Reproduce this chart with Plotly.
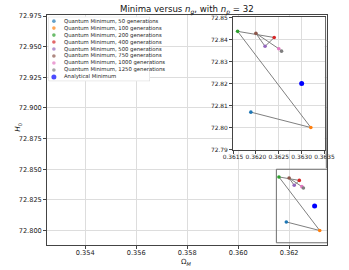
import plotly.graph_objects as go

# ---- data ----
generations = [50, 100, 200, 400, 500, 750, 1000, 1250]
omega_m = [0.36189, 0.36320, 0.36160, 0.36240, 0.36220, 0.36200, 0.36250, 0.36256]
h0 = [72.8070, 72.8000, 72.8437, 72.8409, 72.8369, 72.8428, 72.8358, 72.8347]
analytical_omega = [0.36300]
analytical_h0 = [72.8200]
series_labels = [f"Quantum Minimum, {g} generations" for g in generations]
analytical_label = "Analytical Minimum"

colors = ["#1f77b4", "#ff7f0e", "#2ca02c", "#d62728", "#9467bd", "#8c564b", "#e377c2", "#7f7f7f"]
analytical_color = "#0000ff"

main_xrange = [0.352507, 0.363486]
main_yrange = [72.78835, 72.9755]
inset_xrange = [0.3615, 0.3635]
inset_yrange = [72.79, 72.85]
eps_x = 1e-7
eps_y = 5e-5

FONT = "DejaVu Sans"
fig = go.Figure()

for xa, ya in (("x", "y"), ("x2", "y2")):
    fig.add_trace(go.Scatter(x=omega_m, y=h0, mode="lines", xaxis=xa, yaxis=ya,
                             line=dict(color="#808080", width=1), showlegend=False,
                             hoverinfo="skip"))
    for i in range(len(generations)):
        fig.add_trace(go.Scatter(x=[omega_m[i]], y=[h0[i]], mode="markers", xaxis=xa, yaxis=ya,
                                 marker=dict(color=colors[i], size=3.6, line=dict(width=0)),
                                 name=series_labels[i], showlegend=False))
    fig.add_trace(go.Scatter(x=analytical_omega, y=analytical_h0, mode="markers", xaxis=xa, yaxis=ya,
                             marker=dict(color=analytical_color, size=5, line=dict(width=0)),
                             name=analytical_label, showlegend=False))

# ---- hand-made legend in its own subplot ----
leg_labels = series_labels + [analytical_label]
leg_colors = colors + [analytical_color]
leg_sizes = [3.6] * len(series_labels) + [5]
leg_idx = list(range(len(leg_labels)))
fig.add_trace(go.Scatter(x=[5.7] * len(leg_idx), y=leg_idx, mode="markers", xaxis="x3", yaxis="y3",
                         marker=dict(color=leg_colors, size=leg_sizes, line=dict(width=0)),
                         showlegend=False, hoverinfo="skip"))
annotations = []
for i, lab in enumerate(leg_labels):
    annotations.append(dict(x=14.5, y=i, xref="x3", yref="y3", text=lab, showarrow=False,
                            xanchor="left", yanchor="middle", font=dict(size=5.3, color="#222", family=FONT)))

annotations += [
    dict(x=188 / 349, y=1 - 7.5 / 270, xref="paper", yref="paper", showarrow=False,
         text="Minima versus <i>n<sub>g</sub></i>, with <i>n<sub>p</sub></i> = 32",
         font=dict(size=8.6, color="#111", family=FONT), xanchor="center", yanchor="middle"),
    dict(x=9 / 349, y=1 - 127 / 270, xref="paper", yref="paper", showarrow=False,
         text="<i>H</i><sub>0</sub>", textangle=-90,
         font=dict(size=7.2, color="#111", family=FONT), xanchor="center", yanchor="middle"),
    dict(x=188 / 349, y=1 - 264.5 / 270, xref="paper", yref="paper", showarrow=False,
         text="Ω<sub><i>M</i></sub>",
         font=dict(size=7.2, color="#111", family=FONT), xanchor="center", yanchor="middle"),
]

shapes = [
    # white background of inset (drawn in inset subplot layer)
    dict(type="rect", xref="x2", yref="y2", x0=inset_xrange[0], x1=inset_xrange[1],
         y0=inset_yrange[0], y1=inset_yrange[1], fillcolor="white", line=dict(width=0), layer="below"),
    # zoom indicator rectangle in main axes
    dict(type="rect", xref="x", yref="y", x0=inset_xrange[0], x1=inset_xrange[1],
         y0=inset_yrange[0], y1=inset_yrange[1], line=dict(color="#6e6e6e", width=1), layer="above"),
    # connector from inset upper-right to rectangle upper-right
    dict(type="line", xref="paper", yref="paper", x0=335.7 / 349, y0=1 - 14.7 / 270,
         x1=336.6 / 349, y1=1 - 169 / 270, line=dict(color="#6e6e6e", width=1), layer="above"),
    # legend frame
    dict(type="rect", xref="x3", yref="y3", x0=0, x1=108, y0=8.62, y1=-0.64,
         fillcolor="white", line=dict(color="#d0d0d0", width=1), layer="below"),
]

axis_common = dict(showline=True, linecolor="#444", linewidth=1, mirror=True, ticks="outside",
                   ticklen=3, tickwidth=1, tickcolor="#444", gridcolor="#dddddd", gridwidth=1,
                   zeroline=False, tickangle=0, tickfont=dict(size=6.6, color="#222", family=FONT))
inset_common = dict(axis_common, tickfont=dict(size=5.9, color="#222", family=FONT))

fig.update_layout(
    width=349, height=270, margin=dict(l=0, r=0, t=0, b=0),
    paper_bgcolor="white", plot_bgcolor="white", showlegend=False,
    xaxis=dict(axis_common, domain=[39.5 / 349, 337.3 / 349], range=main_xrange,
               tick0=0.354, dtick=0.002, tickformat=".3f", anchor="y", ticklabelstandoff=-2),
    yaxis=dict(axis_common, domain=[22.7 / 270, 257.3 / 270], range=main_yrange,
               tick0=72.8, dtick=0.025, tickformat=".3f", anchor="x"),
    xaxis2=dict(inset_common, domain=[237.3 / 349, 334.7 / 349],
                range=[inset_xrange[0] - eps_x, inset_xrange[1] + eps_x],
                tick0=0.3615, dtick=0.0005, tickformat=".4f", anchor="y2", ticklabelstandoff=-2),
    yaxis2=dict(inset_common, domain=[120 / 270, 255.3 / 270],
                range=[inset_yrange[0] - eps_y, inset_yrange[1] + eps_y],
                tick0=72.79, dtick=0.01, tickformat=".2f", anchor="x2"),
    xaxis3=dict(domain=[41 / 349, 149 / 349], range=[0, 108], visible=False, anchor="y3"),
    yaxis3=dict(domain=[190 / 270, 256 / 270], range=[8.62, -0.64], visible=False, anchor="x3"),
    annotations=annotations, shapes=shapes,
)

fig.write_html("out.html", config={"displayModeBar": False},
               post_script="document.body.style.margin='0';")
